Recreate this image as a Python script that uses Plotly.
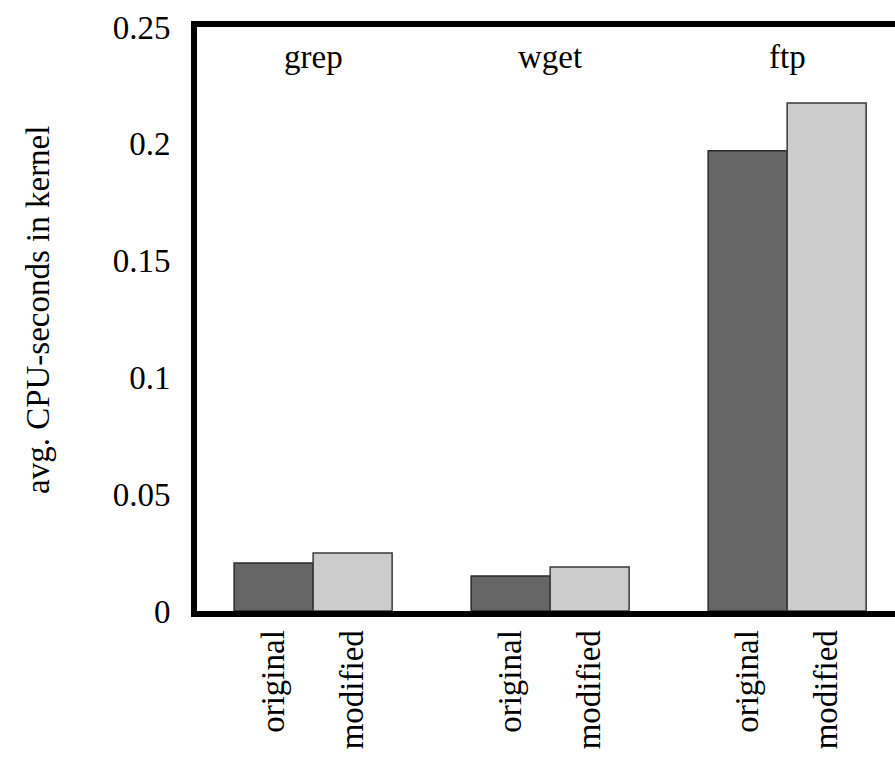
import plotly.graph_objects as go

programs = ["grep", "wget", "ftp"]
original = [0.0205, 0.0150, 0.1970]
modified = [0.0248, 0.0188, 0.2175]
variant_labels = ["original", "modified"]
y_ticks = [0, 0.05, 0.1, 0.15, 0.2, 0.25]
y_ticktext = ["0", "0.05", "0.1", "0.15", "0.2", "0.25"]
y_title = "avg. CPU-seconds in kernel"

FONT = "Liberation Serif, Times New Roman, DejaVu Serif, serif"
FS = 33

pos = list(range(len(programs)))

fig = go.Figure()
fig.add_trace(go.Bar(x=pos, y=original, name="original",
                     marker=dict(color="#666666", line=dict(color="#2a2a2a", width=1.5))))
fig.add_trace(go.Bar(x=pos, y=modified, name="modified",
                     marker=dict(color="#cccccc", line=dict(color="#3a3a3a", width=1.5))))

tickvals = []
ticktext = []
for p in pos:
    tickvals += [p - 1/6, p + 1/6]
    ticktext += variant_labels

for p, name in zip(pos, programs):
    fig.add_annotation(x=p, y=0.237, text=name, showarrow=False,
                       xref="x", yref="y", font=dict(family=FONT, size=FS, color="black"))

L, T, B, W, H = 197, 27, 146, 895, 757
fig.add_annotation(text=y_title, textangle=-90, showarrow=False,
                   xref="paper", yref="paper",
                   x=(38 - L) / (W - L), y=(H - B - 310) / (H - B - T),
                   xanchor="center", yanchor="middle",
                   font=dict(family=FONT, size=FS, color="black"))

fig.update_layout(
    width=W, height=H,
    margin=dict(l=L, r=0, t=T, b=B),
    barmode="group", bargap=1/3, bargroupgap=0,
    plot_bgcolor="white", paper_bgcolor="white",
    showlegend=False,
    font=dict(family=FONT, size=FS, color="black"),
    xaxis=dict(range=[-0.49, 2.455], tickvals=tickvals, ticktext=ticktext,
               tickangle=-90, showgrid=False, zeroline=False, automargin=False,
               showline=True, linecolor="black", linewidth=6, mirror=True,
               ticks="", ticklabelstandoff=0,
               tickfont=dict(family=FONT, size=FS, color="black")),
    yaxis=dict(range=[0, 0.25], tickvals=y_ticks, ticktext=y_ticktext,
               showgrid=False, zeroline=False, automargin=False,
               showline=True, linecolor="black", linewidth=6, mirror=False,
               ticks="", ticklabelstandoff=14,
               tickfont=dict(family=FONT, size=FS, color="black")),
)

fig.write_html("out.html", config={"displayModeBar": False},
               post_script="document.body.style.margin='0';document.body.style.padding='0';")
